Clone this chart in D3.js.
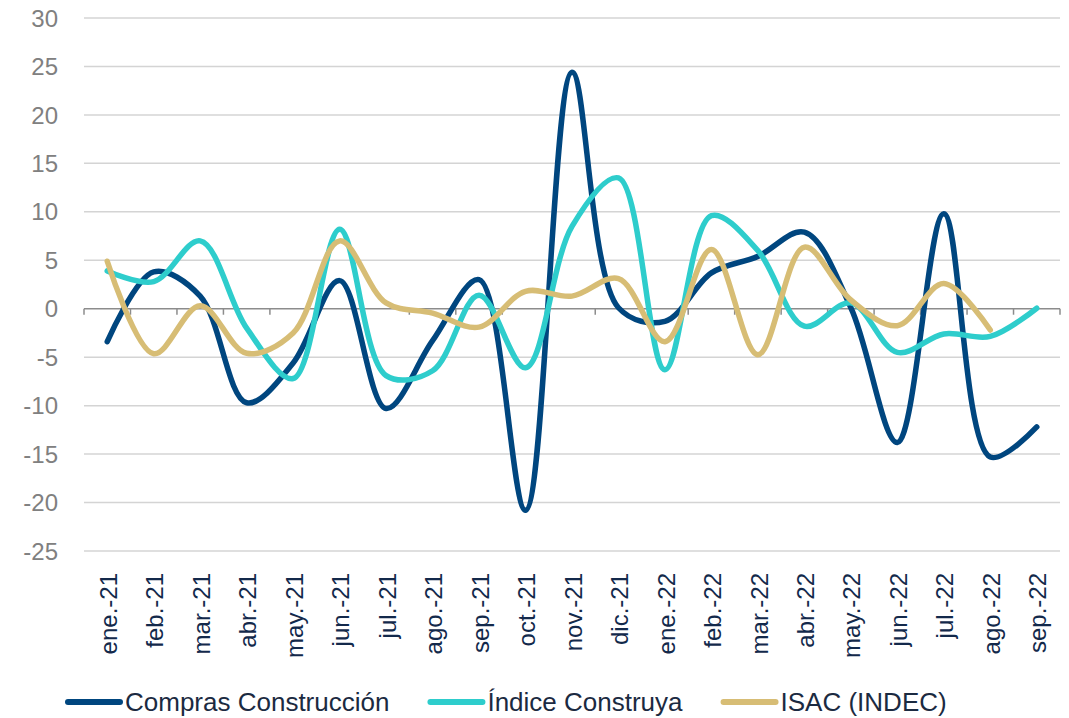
<!DOCTYPE html>
<html>
<head>
<meta charset="utf-8">
<script src="https://cdn.jsdelivr.net/npm/d3@7"></script>
<style>
  body { margin: 0; background: #fff; }
  svg { display: block; font-family: "Liberation Sans", Arial, sans-serif; }
</style>
</head>
<body>
<div id="chart"></div>
<script>
const months = ["ene.-21", "feb.-21", "mar.-21", "abr.-21", "may.-21", "jun.-21", "jul.-21",
  "ago.-21", "sep.-21", "oct.-21", "nov.-21", "dic.-21", "ene.-22", "feb.-22", "mar.-22",
  "abr.-22", "may.-22", "jun.-22", "jul.-22", "ago.-22", "sep.-22"];

const compras = [-3.4, 3.8, 1.3, -9.7, -5.6, 2.9, -10.3, -3.3, 3.0, -20.8, 24.4, 0.1,
  -1.3, 3.7, 5.4, 7.9, 0.1, -13.8, 9.8, -15.3, -12.2];
const construya = [3.9, 2.8, 7.0, -2.0, -7.2, 8.2, -6.9, -6.4, 1.4, -6.1, 8.5, 13.5,
  -6.3, 9.6, 6.0, -1.8, 0.6, -4.5, -2.6, -2.85, 0.05];
const isac = [4.9, -4.65, 0.3, -4.6, -2.5, 7.0, 0.6, -0.45, -1.9, 1.8, 1.3, 3.1,
  -3.4, 6.1, -4.75, 6.35, 0.9, -1.75, 2.6, -2.2, null];

const yTicks = [30, 25, 20, 15, 10, 5, 0, -5, -10, -15, -20, -25];

const series = [
  { name: "Compras Construcción", values: compras, color: "#00467f" },
  { name: "Índice Construya", values: construya, color: "#2ecdcc" },
  { name: "ISAC (INDEC)", values: isac, color: "#d7bd75" }
];

const width = 1069, height = 718;
const plotLeft = 84, plotRight = 1060, plotTop = 18, plotBottom = 551;

const svg = d3.select("#chart").append("svg")
  .attr("width", width)
  .attr("height", height);

const x = d3.scaleBand().domain(months).range([plotLeft, plotRight]);
const y = d3.scaleLinear().domain([-25, 30]).range([plotBottom, plotTop]);
const cx = d => x(d) + x.bandwidth() / 2;

// gridlines
svg.append("g")
  .selectAll("line")
  .data(yTicks.filter(d => d !== 0))
  .enter().append("line")
  .attr("x1", plotLeft).attr("x2", plotRight)
  .attr("y1", d => y(d)).attr("y2", d => y(d))
  .attr("stroke", "#d4d4d4")
  .attr("stroke-width", 1.5);

// y labels
svg.append("g")
  .selectAll("text")
  .data(yTicks)
  .enter().append("text")
  .attr("x", 58)
  .attr("y", d => y(d))
  .attr("dy", "0.36em")
  .style("text-anchor", "end")
  .style("font-size", "24px")
  .style("fill", "#808080")
  .text(d => d);

// zero axis with ticks at category boundaries
const zero = svg.append("g");
zero.append("line")
  .attr("x1", plotLeft).attr("x2", plotRight)
  .attr("y1", y(0)).attr("y2", y(0))
  .attr("stroke", "#8c8c8c")
  .attr("stroke-width", 1.5);
zero.selectAll(".tk")
  .data(months.map(m => x(m)).concat([plotRight]))
  .enter().append("line")
  .attr("class", "tk")
  .attr("x1", d => d).attr("x2", d => d)
  .attr("y1", y(0)).attr("y2", y(0) + 6)
  .attr("stroke", "#8c8c8c")
  .attr("stroke-width", 1.5);

// x labels
const xAxis = svg.append("g")
  .attr("transform", `translate(0,${plotBottom})`)
  .call(d3.axisBottom(x).tickSize(0));
xAxis.select(".domain").remove();
xAxis.selectAll("text")
  .attr("x", 0)
  .attr("y", 0)
  .attr("dy", "0.4em")
  .attr("transform", "translate(0,22) rotate(-90)")
  .style("text-anchor", "end")
  .style("font-size", "24px")
  .style("font-family", "'Liberation Sans', Arial, sans-serif")
  .style("fill", "#13294b");

// lines (centripetal smoothing, close to Excel's smoothed lines)
const line = d3.line()
  .defined(d => d.v !== null)
  .x(d => cx(d.m))
  .y(d => y(d.v))
  .curve(d3.curveCatmullRom.alpha(0.5));

svg.append("g")
  .selectAll("path")
  .data(series)
  .enter().append("path")
  .attr("d", s => line(s.values.map((v, i) => ({ m: months[i], v: v }))))
  .attr("fill", "none")
  .attr("stroke", s => s.color)
  .attr("stroke-width", 5.5)
  .attr("stroke-linecap", "round")
  .attr("stroke-linejoin", "round");

// legend
const legend = svg.append("g").attr("transform", "translate(65,702)");
let lx = 0;
series.forEach(s => {
  const g = legend.append("g").attr("transform", `translate(${lx},0)`);
  g.append("line")
    .attr("x1", 3).attr("x2", 55)
    .attr("y1", 0).attr("y2", 0)
    .attr("stroke", s.color)
    .attr("stroke-width", 6)
    .attr("stroke-linecap", "round");
  const t = g.append("text")
    .attr("x", 60)
    .attr("y", 0)
    .attr("dy", "0.36em")
    .style("font-size", "26px")
    .style("fill", "#1b2a41")
    .text(s.name);
  lx += 60 + t.node().getComputedTextLength() + 38;
});
</script>
</body>
</html>
